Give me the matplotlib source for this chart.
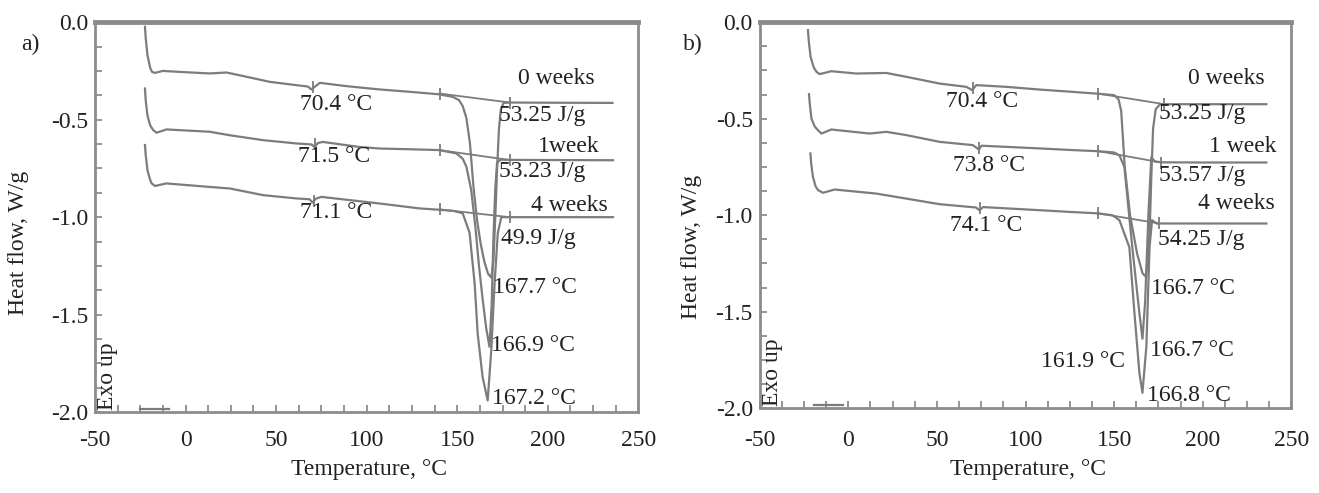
import matplotlib
matplotlib.use("Agg")
import matplotlib.pyplot as plt
from matplotlib.ticker import MultipleLocator, FormatStrFormatter

plt.rcParams['font.family'] = ['Liberation Serif', 'DejaVu Serif']
plt.rcParams['axes.unicode_minus'] = False

# data, panel a -------------------------------------------
a0_T = [-22.4, -22.0, -21.0, -19.5, -18.5, -16.9, -12.5, -3.1, 13.4, 22.6, 33.7, 46.5, 61.2, 67.5, 69.5, 71.5,
        74.1, 88.8, 107.2, 125, 140, 147.5, 151, 153, 155, 157, 159, 161, 163, 165, 167, 168.8, 170, 171, 172,
        173, 174, 175.5, 178, 200, 235.7]
a0_HF = [-0.024, -0.08, -0.17, -0.235, -0.255, -0.26, -0.25, -0.255, -0.263, -0.258, -0.28, -0.306, -0.323, -0.33,
         -0.345, -0.33, -0.311, -0.328, -0.345, -0.358, -0.37, -0.383, -0.40, -0.43, -0.49, -0.62, -0.85, -1.02,
         -1.14, -1.23, -1.29, -1.31, -1.22, -1.00, -0.75, -0.55, -0.45, -0.415, -0.412, -0.413, -0.414]

a1_T = [-22.4, -22.0, -21.0, -19.5, -17.8, -16.0, -10.5, 13.4, 24.5, 42.8, 61.2, 69.5, 71.3, 73.0, 75.7, 96,
        107.2, 125, 140, 149.5, 153, 155, 157.7, 160, 162, 164, 166, 167.8, 169, 170, 171, 172, 174, 178, 200, 236]
a1_HF = [-0.34, -0.40, -0.48, -0.53, -0.554, -0.567, -0.55, -0.562, -0.58, -0.605, -0.622, -0.627, -0.64, -0.62,
         -0.614, -0.64, -0.648, -0.652, -0.656, -0.673, -0.70, -0.74, -0.86, -1.05, -1.25, -1.42, -1.57, -1.665,
         -1.45, -1.10, -0.85, -0.72, -0.705, -0.706, -0.707, -0.708]

a4_T = [-22.4, -22.0, -21.0, -19.5, -18.7, -16.9, -10.5, 13.4, 24.5, 42.8, 61.2, 68.5, 70.0, 72.0, 75.0, 107.2,
        129, 140, 148, 153, 156.8, 159.6, 161.3, 164, 166.8, 168.8, 170.6, 172.4, 174.3, 178, 200, 236]
a4_HF = [-0.63, -0.68, -0.76, -0.81, -0.827, -0.84, -0.827, -0.845, -0.853, -0.887, -0.904, -0.908, -0.925, -0.905,
         -0.896, -0.93, -0.955, -0.962, -0.968, -0.98, -1.08, -1.34, -1.6, -1.82, -1.94, -1.68, -1.34, -1.08, -1.0,
         -1.0, -1.0, -1.0]

# data, panel b -------------------------------------------
b0_T = [-22.8, -22.3, -21.3, -19.5, -18.0, -16.2, -9.6, 4.5, 21.4, 32.7, 51.5, 66.6, 69.9, 72.2, 89.1, 107.9,
        125, 140, 150, 152.5, 154, 156, 159, 163, 166, 168, 170, 171, 172, 173.5, 176, 200, 235.9]
b0_HF = [-0.041, -0.10, -0.18, -0.235, -0.257, -0.269, -0.254, -0.266, -0.263, -0.283, -0.318, -0.335, -0.352,
         -0.326, -0.335, -0.349, -0.36, -0.37, -0.378, -0.40, -0.46, -0.75, -1.0, -1.2, -1.3, -1.32, -1.1, -0.8,
         -0.55, -0.45, -0.425, -0.425, -0.425]

b1_T = [-22.2, -21.8, -20.8, -19.0, -17.1, -15.2, -9.6, 12, 21.4, 32.7, 51.5, 70.3, 73.7, 75.2, 107.9, 125, 140,
        150, 153, 155.8, 160.3, 164.3, 166, 167.5, 169.4, 171, 173, 177, 200, 235.9]
b1_HF = [-0.373, -0.42, -0.50, -0.54, -0.56, -0.577, -0.556, -0.577, -0.568, -0.585, -0.62, -0.637, -0.66, -0.64,
         -0.654, -0.662, -0.668, -0.675, -0.69, -0.75, -1.17, -1.51, -1.64, -1.45, -0.99, -0.70, -0.722, -0.726,
         -0.727, -0.727]

b4_T = [-21.4, -21.0, -20.0, -18.5, -17.1, -14.3, -7.7, 15.8, 32.7, 51.5, 72.0, 74.1, 76.0, 107.9, 125, 140, 149,
        153, 158.6, 161.5, 164.3, 166, 168.2, 170, 171.4, 174, 200, 235.9]
b4_HF = [-0.68, -0.73, -0.80, -0.85, -0.87, -0.884, -0.867, -0.888, -0.914, -0.943, -0.96, -0.975, -0.958, -0.974,
         -0.983, -0.99, -1.0, -1.026, -1.166, -1.51, -1.82, -1.92, -1.68, -1.166, -1.026, -1.043, -1.043, -1.043]

# integration baselines (start T, start HF, end T, end HF)
a_base = [(140.3, -0.366, 178.9, -0.412), (140.3, -0.656, 178.9, -0.707), (140.3, -0.960, 178.9, -1.0)]
b_base = [(141.0, -0.370, 178.4, -0.425), (141.0, -0.668, 176.6, -0.727), (141.0, -0.990, 175.6, -1.043)]

# glass transition marks
a_tg = [(70.4, -0.33), (71.5, -0.625), (71.1, -0.915)]
b_tg = [(70.4, -0.34), (73.8, -0.65), (74.1, -0.965)]

# labels: (text, x, y, ha)
a_labels = [("0 weeks", 225.8, -0.287, 'right'), ("53.25 J/g", 172.8, -0.477, 'left'),
            ("1week", 228.5, -0.636, 'right'), ("53.23 J/g", 172.8, -0.768, 'left'),
            ("4 weeks", 232.9, -0.938, 'right'), ("49.9 J/g", 173.9, -1.108, 'left'),
            ("167.7 °C", 169.5, -1.36, 'left'), ("166.9 °C", 168.9, -1.656, 'left'),
            ("167.2 °C", 169.0, -1.93, 'left'),
            ("70.4 °C", 63.0, -0.42, 'left'), ("71.5 °C", 61.9, -0.69, 'left'), ("71.1 °C", 63.4, -0.978, 'left')]
b_labels = [("0 weeks", 234.8, -0.29, 'right'), ("53.25 J/g", 175.6, -0.472, 'left'),
            ("1 week", 241.5, -0.642, 'right'), ("53.57 J/g", 175.6, -0.793, 'left'),
            ("4 weeks", 240.9, -0.938, 'right'), ("54.25 J/g", 175.0, -1.124, 'left'),
            ("166.7 °C", 171.0, -1.378, 'left'), ("166.7 °C", 170.0, -1.70, 'left'),
            ("166.8 °C", 168.8, -1.933, 'left'), ("161.9 °C", 156.0, -1.76, 'right'),
            ("70.4 °C", 55.3, -0.413, 'left'), ("73.8 °C", 58.9, -0.741, 'left'), ("74.1 °C", 57.1, -1.052, 'left')]

# bottom left stray segment
a_seg = ([-25, -9], [-1.985, -1.985])
b_seg = ([-19.5, -3.2], [-1.985, -1.985])

line_c = '#7c7c7c'
spine_c = '#8c8c8c'
fs = 17

fig = plt.figure(figsize=(13.19, 4.93), dpi=100)
ax_a = fig.add_axes([0.072, 0.164, 0.412, 0.791])
ax_b = fig.add_axes([0.576, 0.172, 0.403, 0.783])


def draw(ax, curves, base, tg, labels, seg, ylab_x, ylab_y, xlab_y, xpad):
    for T, HF in curves:
        ax.plot(T, HF, color=line_c, lw=1.6)
    for x0, y0, x1, y1 in base:
        ax.plot([x0, x1], [y0, y1], color=line_c, lw=1.3)
        ax.plot([x0, x1], [y0, y1], ls='none', marker='|', ms=9, mew=1.3, color=line_c)
    for x, y in tg:
        ax.plot(x, y, marker='|', ms=9, mew=1.3, color=line_c)
    for txt, x, y, ha in labels:
        ax.text(x, y, txt, fontsize=fs, ha=ha, va='center', color='#222222')
    ax.plot(seg[0], seg[1], color=line_c, lw=1.6)
    ax.text(-43, -1.99, "Exo up", rotation=90, fontsize=fs, ha='center', va='bottom', color='#222222')

    ax.set_xlim(-50, 250)
    ax.set_ylim(-2.0, 0.0)
    ax.xaxis.set_major_locator(MultipleLocator(50))
    ax.xaxis.set_minor_locator(MultipleLocator(12.5))
    ax.yaxis.set_major_locator(MultipleLocator(0.5))
    ax.yaxis.set_minor_locator(MultipleLocator(0.125))
    ax.yaxis.set_major_formatter(FormatStrFormatter('%.1f'))
    ax.tick_params(which='both', direction='in', color=spine_c, width=1.3, length=5,
                   labelsize=fs, labelcolor='#222222')
    ax.tick_params(axis='x', which='major', pad=xpad)
    ax.tick_params(axis='y', which='major', pad=5)
    for s in ax.spines.values():
        s.set_color(spine_c)
        s.set_linewidth(2)
    ax.spines['top'].set_linewidth(3.5)
    ax.set_xlabel('Temperature, °C', fontsize=fs, color='#222222')
    ax.set_ylabel('Heat flow, W/g', fontsize=fs, color='#222222')
    ax.xaxis.set_label_coords(0.505, xlab_y)
    ax.yaxis.set_label_coords(ylab_x, ylab_y)


draw(ax_a, [(a0_T, a0_HF), (a1_T, a1_HF), (a4_T, a4_HF)], a_base, a_tg, a_labels, a_seg,
     -0.122, 0.433, -0.12, 13)
draw(ax_b, [(b0_T, b0_HF), (b1_T, b1_HF), (b4_T, b4_HF)], b_base, b_tg, b_labels, b_seg,
     -0.109, 0.417, -0.132, 16)

fig.text(0.023, 0.909, 'a)', fontsize=fs, ha='center', va='center', color='#222222')
fig.text(0.525, 0.909, 'b)', fontsize=fs, ha='center', va='center', color='#222222')

fig.savefig('out.png', dpi=100)
